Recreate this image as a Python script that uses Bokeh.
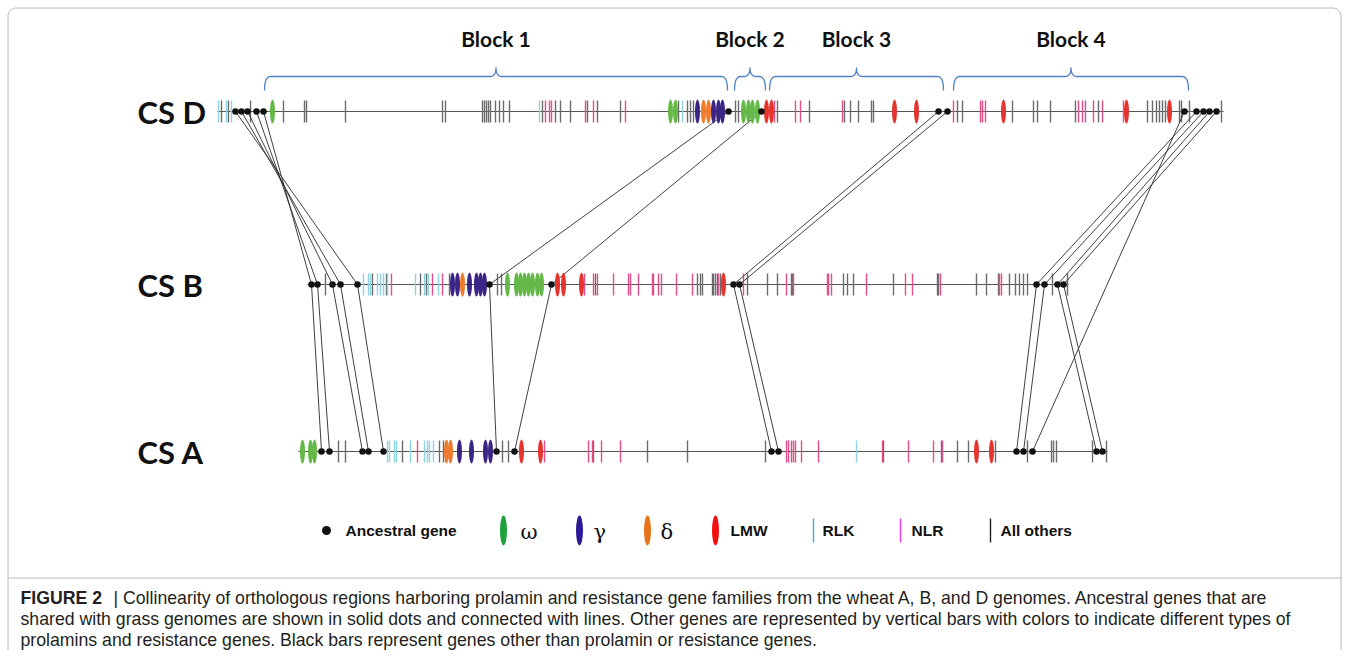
from bokeh.plotting import figure
from bokeh.models import Range1d
from bokeh.embed import file_html
from bokeh.resources import INLINE
from bokeh.core.properties import value
import numpy as np

# ---------------- data (positions along each chromosome region) ----------------
genomes = ["CS D", "CS B", "CS A"]

D_RLK = [218, 226, 231, 539, 682]
D_NLR = [545, 549, 551, 585, 593, 625, 774, 795, 800, 842, 953, 980, 982, 985,
         1078, 1082, 1085, 1093, 1102, 1123]
D_other = [221, 228, 250, 283, 304, 306, 345, 442, 445, 482, 484, 486, 488, 490, 495,
           499, 503, 509, 542, 555, 560, 570, 587, 597, 620, 678, 687, 690, 693, 735,
           738, 777, 809, 844, 850, 858, 871, 873, 957, 962, 1012, 1033, 1037, 1050,
           1075, 1098, 1147, 1152, 1156, 1159, 1162, 1165, 1179, 1181, 1189, 1221]
D_omega = [272, 670, 675, 743, 748, 752, 757]
D_gamma = [697, 713, 718, 722]
D_delta = [703, 708]
D_LMW = [766, 771, 894, 916, 1003, 1126, 1169]
D_anc = [235, 241, 247, 256, 263, 728, 761, 938, 947, 1184, 1196, 1203, 1209, 1216]

B_RLK = [363, 368, 370, 377, 380, 383, 387, 415, 424, 428, 438]
B_NLR = [391, 432, 442, 584, 593, 597, 613, 628, 630, 638, 652, 653, 658, 661, 676,
         692, 718, 743, 786, 793, 827, 828, 831, 866, 905, 912, 940, 999, 1001]
B_other = [325, 372, 386, 420, 426, 449, 497, 501, 595, 697, 700, 702, 712, 713, 715,
           717, 720, 747, 767, 777, 791, 792, 843, 847, 853, 893, 937, 938, 976, 986,
           998, 1009, 1015, 1019, 1023, 1027, 1052, 1067]
B_omega = [507, 516, 520, 524, 528, 532, 537, 541]
B_gamma = [452, 457, 469, 476, 480, 484]
B_delta = [462]
B_LMW = [557, 563, 581, 723]
B_anc = [311, 317, 332, 340, 357, 489, 551, 733, 739, 1036, 1044, 1057, 1063]

A_RLK = [387, 389, 394, 396, 410, 424, 427, 429, 433, 856]
A_NLR = [417, 544, 588, 592, 601, 620, 786, 788, 791, 793, 795, 801, 818, 882, 908,
         933, 942]
A_other = [338, 345, 402, 439, 443, 502, 508, 593, 647, 687, 765, 883, 941, 957, 968,
           995, 1027, 1051, 1053, 1056, 1092, 1106]
A_omega = [302, 310, 314]
A_gamma = [459, 471, 485, 490]
A_delta = [446, 450]
A_LMW = [521, 540, 976, 991]
A_anc = [321, 329, 362, 368, 383, 496, 514, 771, 778, 1016, 1023, 1032, 1096, 1102]

# region extents
D_span = [217, 1223]
B_span = [307, 1068]
A_span = [298, 1107]

# links between ancestral genes (index in source list, index in target list)
links_DB = [(0, 4), (1, 3), (2, 2), (3, 1), (4, 0), (5, 5), (6, 6), (7, 7), (8, 8),
            (10, 9), (11, 10), (12, 11), (13, 12)]
links_BA = [(0, 0), (1, 1), (2, 2), (3, 3), (4, 4), (5, 5), (6, 6), (7, 7), (8, 8),
            (9, 9), (10, 10), (11, 12), (12, 13)]
links_DA = [(9, 11)]

block_names = ["Block 1", "Block 2", "Block 3", "Block 4"]
block_start = [264, 734, 769, 953]
block_end = [727, 765, 943, 1188]

legend_labels = ["Ancestral gene", "\u03c9", "\u03b3", "\u03b4", "LMW", "RLK", "NLR", "All others"]
legend_kinds = ["anc", "omega", "gamma", "delta", "LMW", "RLK", "NLR", "other"]

caption_lines = [
    "| Collinearity of orthologous regions harboring prolamin and resistance gene families from the wheat A, B, and D genomes. Ancestral genes that are",
    "shared with grass genomes are shown in solid dots and connected with lines. Other genes are represented by vertical bars with colors to indicate different types of",
    "prolamins and resistance genes. Black bars represent genes other than prolamin or resistance genes.",
]

# ---------------- styling ----------------
track_col = {"RLK": "#8fd3de", "NLR": "#e44d86", "other": "#6b6b6b"}
ell_col = {"omega": "#63b847", "gamma": "#3a2585", "delta": "#ef7b2d", "LMW": "#e5332e"}
leg_col = {"anc": "#111111", "omega": "#1fa03a", "gamma": "#2a1a95", "delta": "#e8741a",
           "LMW": "#f01010", "RLK": "#3aaee4", "NLR": "#e83ae8", "other": "#222222"}

W, H = 1342, 650
p = figure(width=W, height=H, x_range=Range1d(0, W), y_range=Range1d(H, 0),
           output_backend="svg", toolbar_location=None, min_border=0,
           background_fill_color="white", border_fill_color="white")
p.axis.visible = False
p.xgrid.visible = False
p.ygrid.visible = False
p.outline_line_color = None

# frame
def frame_path(x0, x1, y0, y1, r):
    t = np.linspace(0, np.pi / 2, 8)
    xs = list(x0 + r - r * np.cos(t))
    ys = list(y0 + r - r * np.sin(t))
    xs = [x0] + xs + list(x1 - r + r * np.sin(t)) + [x1]
    ys = [y1] + ys + list(y0 + r - r * np.cos(t)) + [y1]
    return xs, ys

fx, fy = frame_path(7.5, 1340.5, 7.5, 660, 8)
p.line(fx, fy, line_color="#b8b8b8", line_width=1)
p.segment(x0=[7.5], y0=[577.5], x1=[1340.5], y1=[577.5], line_color="#b8b8b8", line_width=1)

tracks = {
    "CS D": dict(y=111, span=D_span, RLK=D_RLK, NLR=D_NLR, other=D_other, omega=D_omega,
                 gamma=D_gamma, delta=D_delta, LMW=D_LMW, anc=D_anc),
    "CS B": dict(y=284, span=B_span, RLK=B_RLK, NLR=B_NLR, other=B_other, omega=B_omega,
                 gamma=B_gamma, delta=B_delta, LMW=B_LMW, anc=B_anc),
    "CS A": dict(y=451, span=A_span, RLK=A_RLK, NLR=A_NLR, other=A_other, omega=A_omega,
                 gamma=A_gamma, delta=A_delta, LMW=A_LMW, anc=A_anc),
}

# backbone lines + bars
for g in genomes:
    t = tracks[g]
    y = t["y"]
    p.segment(x0=[t["span"][0]], y0=[y], x1=[t["span"][1]], y1=[y],
              line_color="#555555", line_width=1.2)
    for kind in ["other", "RLK", "NLR"]:
        xs = t[kind]
        p.segment(x0=xs, y0=[y - 11] * len(xs), x1=xs, y1=[y + 11] * len(xs),
                  line_color=track_col[kind], line_width=1.4)

# connecting lines
def draw_links(src, dst, pairs):
    s, d = tracks[src], tracks[dst]
    x0 = [s["anc"][i] for i, j in pairs]
    x1 = [d["anc"][j] for i, j in pairs]
    p.segment(x0=x0, y0=[s["y"]] * len(pairs), x1=x1, y1=[d["y"]] * len(pairs),
              line_color="#2a2a2a", line_width=0.9)

draw_links("CS D", "CS B", links_DB)
draw_links("CS B", "CS A", links_BA)
draw_links("CS D", "CS A", links_DA)

# prolamin ellipses and ancestral dots
for g in genomes:
    t = tracks[g]
    y = t["y"]
    for kind in ["omega", "gamma", "delta", "LMW"]:
        xs = t[kind]
        p.ellipse(x=xs, y=[y] * len(xs), width=5, height=24,
                  fill_color=ell_col[kind], line_color=None)
    p.scatter(x=t["anc"], y=[y] * len(t["anc"]), size=6.5, marker="circle",
              fill_color="#111111", line_color=None)

# genome labels
p.text(x=[137] * 3, y=[tracks[g]["y"] for g in genomes], text=genomes,
       text_font=value("Lato"), text_font_size="31px", text_font_style="bold",
       text_color="#111111", text_align="left", text_baseline="middle")

# block braces
def brace(x0, x1, ybot=90, ymid=76, ytop=67, r=6):
    xm = (x0 + x1) / 2.0
    s = np.linspace(0, 1, 8)
    def quad(pa, pc, pb):
        return ((1 - s) ** 2 * pa[0] + 2 * (1 - s) * s * pc[0] + s ** 2 * pb[0],
                (1 - s) ** 2 * pa[1] + 2 * (1 - s) * s * pc[1] + s ** 2 * pb[1])
    parts = [quad((x0, ybot), (x0, ymid), (x0 + r, ymid)),
             quad((xm - r, ymid), (xm, ymid), (xm, ytop)),
             quad((xm, ytop), (xm, ymid), (xm + r, ymid)),
             quad((x1 - r, ymid), (x1, ymid), (x1, ybot))]
    xs = np.concatenate([q[0] for q in parts])
    ys = np.concatenate([q[1] for q in parts])
    return xs, ys

for x0, x1 in zip(block_start, block_end):
    bx, by = brace(x0, x1)
    p.line(bx, by, line_color="#4f81c4", line_width=1.3)

p.text(x=[(a + b) / 2 for a, b in zip(block_start, block_end)], y=[38] * 4, text=block_names,
       text_font=value("Lato"), text_font_size="21px", text_font_style="bold",
       text_color="#111111", text_align="center", text_baseline="middle")

# legend
leg_y = 530
leg_mark_x = [326, 503, 579, 647, 715, 813, 900, 990]
leg_text_x = [345, 520, 593, 660, 730, 822, 911, 1000]
for lab, kind, mx, tx in zip(legend_labels, legend_kinds, leg_mark_x, leg_text_x):
    if kind == "anc":
        p.scatter(x=[mx], y=[leg_y], size=9, marker="circle", fill_color="#111111", line_color=None)
    elif kind in ("omega", "gamma", "delta", "LMW"):
        p.ellipse(x=[mx], y=[leg_y], width=7, height=30, fill_color=leg_col[kind], line_color=None)
    else:
        p.segment(x0=[mx], y0=[leg_y - 12], x1=[mx], y1=[leg_y + 12],
                  line_color=leg_col[kind], line_width=1.4)
    if kind in ("omega", "gamma", "delta"):
        p.text(x=[tx], y=[leg_y + 1], text=[lab], text_font=value("DejaVu Serif"),
               text_font_size="21px", text_color="#111111",
               text_align="left", text_baseline="middle")
    else:
        p.text(x=[tx], y=[leg_y], text=[lab], text_font=value("Liberation Sans"),
               text_font_size="15.5px", text_font_style="bold", text_color="#111111",
               text_align="left", text_baseline="middle")

# caption
cap_y = [597, 618.5, 639.5]
p.text(x=[20], y=[cap_y[0]], text=["FIGURE 2"], text_font=value("Liberation Sans"),
       text_font_size="17.7px", text_font_style="bold", text_color="#231f20",
       text_align="left", text_baseline="middle")
p.text(x=[113, 20, 20], y=cap_y, text=caption_lines,
       text_font=value("Liberation Sans"), text_font_size="17.7px",
       text_color="#231f20", text_align="left", text_baseline="middle")

open("out.html", "w").write(file_html(p, INLINE))
